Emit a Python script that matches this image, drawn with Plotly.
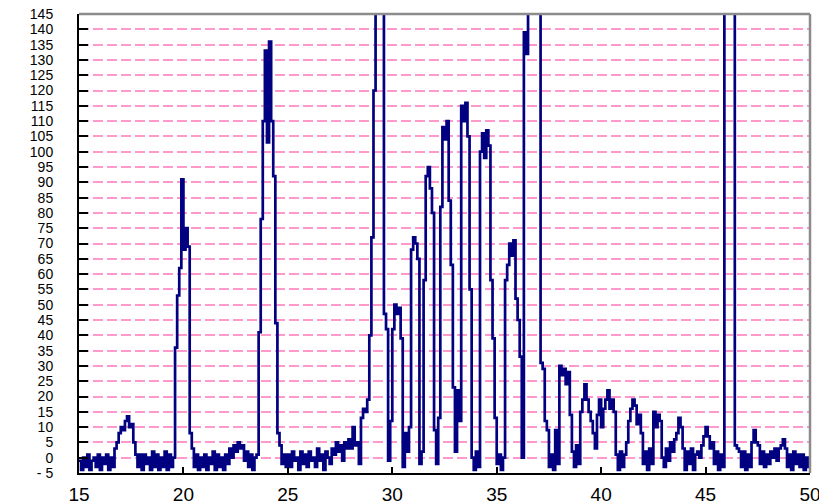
import plotly.graph_objects as go

# intensity trace, one reading every 0.1 from 15.0 to 50.0
# (values above 145 run off the top of the chart)
x_start = 15.0
x_step = 0.1
intensity = [
    -1, -4, 0, -3, 1, -4, -1, 0, -3, 1,          # 15
    -4, 0, -2, 1, -4, 0, -3, 3, 5, 8,            # 16
    10, 9, 12, 13.5, 10, 11, 5, 1, -3, 1,        # 17
    -4, 1, -2, 0, -4, 2, -3, 1, -4, 0,           # 18
    -3, 2, -4, 1, -3, 0, 36, 53, 62, 91,         # 19
    68, 75, 69, 8, 3, -3, 1, -4, 0, -3,          # 20
    1, -4, 0, -2, 2, -4, 1, -3, 0, -4,           # 21
    1, -2, 3, 0, 4, 2, 5, 3, 4, -1,              # 22
    2, -3, 1, -4, 0, 1, 41, 78, 110, 133,        # 23
    103, 136, 110, 92, 44, 8, 4, -2, 1, -3,      # 24
    1, -3, 2, -1, 0, -4, 2, -2, 1, -3,           # 25
    2, -1, 0, -3, 3, -1, 1, -4, 2, 0,            # 26
    -2, 3, 1, 5, 2, 4, -1, 5, 3, 6,              # 27
    3, 10, 4, 5, -2, 13, 16, 15, 19, 40,         # 28
    72, 120, 200, 200, 200, 200, 47, 42, -1, 12, # 29
    42, 50, 47, 49, 39, -3, 8, 2, 10, 68,        # 30
    72, 70, 65, -2, 2, 58, 92, 95, 88, 80,       # 31
    9, -2, 13, 82, 108, 104, 110, 84, 63, 23,    # 32
    2, 22, 12, 115, 110, 116, 105, 55, 0, -4,    # 33
    2, -3, 100, 106, 98, 107, 102, 58, 39, 13,   # 34
    -2, 1, -4, 0, 58, 63, 70, 66, 71, 52,        # 35
    45, 33, 0, 139, 132, 200, 200, 200, 200, 200,  # 36
    200, 31, 29, 12, 9, -3, 1, -4, 9, -2,        # 37
    30, 27, 29, 24, 28, 14, 2, -3, 4, -2,        # 38
    15, 19, 24, 19, 15, 12, 8, 3, 14, 19,        # 39
    10, 16, 19, 22, 16, 19, 15, 1, -4, 2,        # 40
    -3, 1, 5, 12, 16, 19, 17, 11, 14, 8,         # 41
    -2, 2, -4, 3, -2, 15, 10, 14, 12, 0,         # 42
    -3, 3, -1, 5, 2, 6, 8, 13, 10, 3,            # 43
    -4, 2, -2, 3, -4, 1, 2, 0, 4, 7,             # 44
    10, 7, 3, 5, -2, 2, -4, 1, -3, 200,          # 45
    200, 200, 200, 200, 4, 3, 2, -3, 2, -4,      # 46
    1, -3, 5, 9, 5, 4, -2, 2, -3, 1,             # 47
    -2, 2, 0, 3, -1, 3, 4, 6, 3, -3,             # 48
    1, -4, 2, -2, 1, -3, 1, -4, 0, -3,           # 49
    0,                                           # 50
]

x_ticks = [15, 20, 25, 30, 35, 40, 45, 50]
y_ticks = [-5, 0, 5, 10, 15, 20, 25, 30, 35, 40, 45, 50, 55, 60, 65, 70,
           75, 80, 85, 90, 95, 100, 105, 110, 115, 120, 125, 130, 135, 140, 145]
y_tick_labels = ['- 5', '0', '5', '10', '15', '20', '25', '30', '35', '40',
                 '45', '50', '55', '60', '65', '70', '75', '80', '85', '90',
                 '95', '100', '105', '110', '115', '120', '125', '130', '135',
                 '140', '145']

NAVY = '#000080'
PINK = '#FF99CC'
FRAME_GRAY = '#8C8C8C'

trace = go.Scatter(
    x0=x_start,
    dx=x_step,
    y=intensity,
    mode='lines',
    line=dict(color=NAVY, width=2.7, shape='hv'),
    hoverinfo='skip',
)

fig = go.Figure(data=[trace])

# the page body adds an 8px offset, so the figure is trimmed to fit the window
fig.update_layout(
    width=819,
    height=496,
    margin=dict(l=71, r=17, t=6, b=31),
    paper_bgcolor='white',
    plot_bgcolor='white',
    showlegend=False,
)

fig.update_xaxes(
    range=[15, 50],
    tickvals=x_ticks,
    ticks='inside',
    ticklen=6,
    tickwidth=2,
    tickcolor='black',
    showline=True,
    linecolor='black',
    linewidth=2,
    showgrid=False,
    zeroline=False,
    automargin=False,
    tickfont=dict(family='Arial, Liberation Sans', size=19, color='black'),
    ticklabelstandoff=3,
    ticklabeloverflow='allow',
)

fig.update_yaxes(
    range=[-5, 145],
    tickvals=y_ticks,
    ticktext=y_tick_labels,
    ticks='inside',
    ticklen=9,
    tickwidth=2,
    tickcolor='black',
    showline=True,
    linecolor='black',
    linewidth=2,
    showgrid=True,
    gridcolor=PINK,
    gridwidth=1.5,
    griddash='10px,4px',
    zeroline=False,
    automargin=False,
    tickfont=dict(family='Arial, Liberation Sans', size=14, color='black'),
    ticklabelstandoff=21,
    ticklabeloverflow='allow',
)

# gray frame on the top and right sides
fig.add_shape(type='line', xref='paper', yref='paper', x0=0, x1=1, y0=1, y1=1,
              line=dict(color=FRAME_GRAY, width=2.5), layer='above')
fig.add_shape(type='line', xref='paper', yref='paper', x0=1, x1=1, y0=0, y1=1,
              line=dict(color=FRAME_GRAY, width=2.5), layer='above')

fig.write_html('out.html')
